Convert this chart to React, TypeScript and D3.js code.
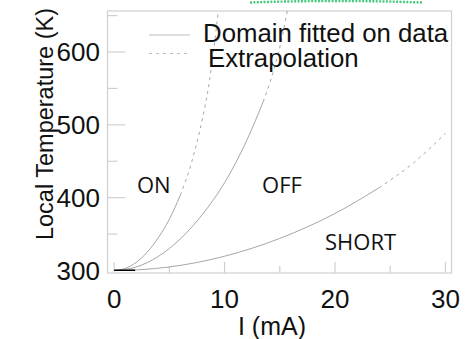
import React from "react";
import * as d3 from "d3";

// ---- data ----
const xTicks = [0, 5, 10, 15, 20, 25, 30];
const xTickLabels = [0, 10, 20, 30];
const yTicks = [350, 400, 450, 500, 550, 600, 650];
const yTickLabels = [300, 400, 500, 600];

// [I (mA), T (K)]
const onCurve: [number, number][] = [
  [0, 300], [1, 302.8], [2, 311.2], [3, 325.3], [4, 345], [5, 370.3],
  [6, 403.6], [7, 447.6], [8, 508.8], [8.5, 547.8], [9, 600.9], [9.5, 665.5],
];
const offCurve: [number, number][] = [
  [0, 300], [2, 304.8], [4, 319.3], [6, 343.4], [8, 377.1], [10, 420.5],
  [12, 478.3], [13.5, 531.8], [14.5, 577.9], [15.5, 641.7], [15.8, 667.5],
];
const shortCurve: [number, number][] = [
  [0, 300], [2, 300.8], [5, 304.9], [10, 319.6], [15, 344.1], [20, 378.3],
  [24, 413.7], [27, 446.4], [30, 488.2],
];
const fitLimitON = 6;
const fitLimitOFF = 13.5;
const fitLimitSHORT = 24;
const measured: [number, number][] = [[0, 300.4], [1.9, 300.4]];

const curveLabels = [
  { text: "ON", I: 2.07, T: 406.4 },
  { text: "OFF", I: 13.4, T: 406.4 },
  { text: "SHORT", I: 19.1, T: 328.2 },
];

const W = 467;
const H = 339;
const left = 107.5, right = 451.5, top = 11, bottom = 273;

export default function App() {
  const x = d3.scaleLinear().domain([-0.6, 30.55]).range([left, right]);
  const y = d3.scaleLinear().domain([296.6, 656.3]).range([bottom, top]);
  const line = d3
    .line<[number, number]>()
    .x((d) => x(d[0]))
    .y((d) => y(d[1]))
    .curve(d3.curveMonotoneX);

  const split = (pts: [number, number][], lim: number) => {
    const fit = pts.filter((p) => p[0] <= lim);
    const ext = pts.filter((p) => p[0] >= lim);
    const lastFit = fit[fit.length - 1];
    if (lastFit[0] < lim) ext.unshift(lastFit);
    return { fit, ext };
  };

  const curves = [
    split(onCurve, fitLimitON),
    split(offCurve, fitLimitOFF),
    split(shortCurve, fitLimitSHORT),
  ];

  const axisColor = "#cfcfcf";
  const curveColor = "#8f8f8f";
  const font = "'Liberation Sans', Arial, sans-serif";

  return (
    <svg
      width={W}
      height={H}
      style={{ position: "absolute", left: 0, top: 0, background: "#fff" }}
    >
      <defs>
        <clipPath id="plot">
          <rect x={left} y={top} width={right - left} height={bottom - top} />
        </clipPath>
      </defs>
      {/* green dotted artifact at top */}
      <path
        d={`M250,2.5 Q336,-0.5 423,2.5`}
        fill="none"
        stroke="#46c97a"
        strokeWidth={2.4}
        strokeDasharray="2,1.4"
      />
      {/* frame */}
      <rect
        x={left}
        y={top}
        width={right - left}
        height={bottom - top}
        fill="none"
        stroke={axisColor}
        strokeWidth={1.2}
      />
      {yTicks.map((t) => (
        <line
          key={"yt" + t}
          x1={left}
          x2={left + (t % 100 === 0 ? 18 : 10)}
          y1={y(t)}
          y2={y(t)}
          stroke={axisColor}
          strokeWidth={1.2}
        />
      ))}
      {xTicks.map((t) => (
        <line
          key={"xt" + t}
          x1={x(t)}
          x2={x(t)}
          y1={bottom}
          y2={bottom - (t % 10 === 0 ? 11 : 7)}
          stroke={axisColor}
          strokeWidth={1.2}
        />
      ))}
      {yTickLabels.map((t) => (
        <text
          key={"yl" + t}
          x={100}
          y={y(t)}
          dy="0.36em"
          textAnchor="end"
          fontFamily={font}
          fontSize={26}
          fill="#111"
        >
          {t}
        </text>
      ))}
      {xTickLabels.map((t) => (
        <text
          key={"xl" + t}
          x={x(t)}
          y={308}
          textAnchor="middle"
          fontFamily={font}
          fontSize={26}
          fill="#111"
        >
          {t}
        </text>
      ))}
      <text
        x={272}
        y={335}
        textAnchor="middle"
        fontFamily={font}
        fontSize={25}
        fill="#111"
      >
        I (mA)
      </text>
      <text
        transform={`translate(53,124) rotate(-90)`}
        textAnchor="middle"
        fontFamily={font}
        fontSize={23.5}
        fill="#111"
      >
        Local Temperature (K)
      </text>
      <g clipPath="url(#plot)">
        {curves.map((c, i) => (
          <g key={"c" + i}>
            <path
              d={line(c.fit) || ""}
              fill="none"
              stroke={curveColor}
              strokeWidth={0.8}
            />
            <path
              d={line(c.ext) || ""}
              fill="none"
              stroke={curveColor}
              strokeWidth={0.8}
              strokeDasharray="3,4"
            />
          </g>
        ))}
        <path
          d={line(measured) || ""}
          fill="none"
          stroke="#000"
          strokeWidth={1.6}
        />
      </g>
      {curveLabels.map((l) => (
        <text
          key={l.text}
          x={x(l.I)}
          y={y(l.T)}
          fontFamily="'Open Sans', sans-serif"
          fontSize={22}
          fill="#111"
        >
          {l.text}
        </text>
      ))}
      {/* legend */}
      <line x1={149} x2={190} y1={35} y2={35} stroke="#bdbdbd" strokeWidth={1} />
      <line
        x1={149}
        x2={190}
        y1={53.5}
        y2={53.5}
        stroke="#bdbdbd"
        strokeWidth={1}
        strokeDasharray="3,4"
      />
      <text x={203} y={42} fontFamily={font} fontSize={25.8} fill="#111">
        Domain fitted on data
      </text>
      <text x={208} y={67} fontFamily={font} fontSize={25.8} fill="#111">
        Extrapolation
      </text>
    </svg>
  );
}
